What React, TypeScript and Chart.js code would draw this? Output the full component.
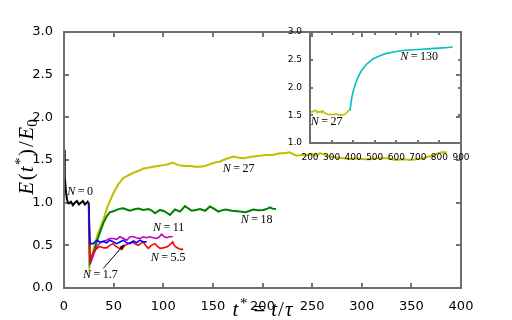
import React, { useEffect, useRef } from "react";
import { Chart, registerables } from "chart.js";

Chart.register(...registerables);

// ---------- data (t*, E/E0) ----------
const seriesN0: [number, number][] = [
  [0, 1.62], [0.5, 1.45], [1, 1.3], [2, 1.12], [3, 1.04], [4, 1.0], [5, 0.99], [7, 1.01], [9, 0.97],
  [11, 1.0], [13, 1.02], [15, 0.98], [17, 1.0], [19, 1.02], [21, 0.98], [23, 1.0], [24.5, 1.02],
];
const seriesN17: [number, number][] = [
  [25, 1.0], [25.8, 0.62], [26.4, 0.52], [29.5, 0.52], [33, 0.56], [36, 0.54], [39.6, 0.545], [43, 0.53],
  [46.3, 0.56], [50, 0.54], [53, 0.52], [56.4, 0.54], [59.8, 0.56], [63, 0.53], [66.5, 0.52], [70, 0.55],
  [73, 0.53], [76.6, 0.56], [80, 0.54], [83.3, 0.54],
];
const seriesN55: [number, number][] = [
  [25, 1.0], [26, 0.4], [27, 0.34], [29, 0.4], [31.2, 0.445], [34, 0.47], [36.3, 0.485], [40, 0.47],
  [43, 0.47], [46, 0.5], [49.7, 0.52], [52, 0.49], [54.7, 0.47], [58, 0.45], [61.5, 0.5], [65, 0.52],
  [68.2, 0.54], [71, 0.52], [74.9, 0.5], [77, 0.52], [79.9, 0.54], [82, 0.5], [85, 0.465], [88, 0.5],
  [91.7, 0.52], [94, 0.49], [96.7, 0.465], [100, 0.47], [103.4, 0.48], [106, 0.5], [109.5, 0.54],
  [111, 0.5], [113.5, 0.475], [116, 0.46], [118.6, 0.45], [120, 0.46],
];
const seriesN11: [number, number][] = [
  [25, 1.0], [26, 0.35], [27, 0.3], [30, 0.4], [33, 0.48], [36.3, 0.53], [40, 0.55], [43, 0.56],
  [46, 0.58], [49.7, 0.58], [53, 0.57], [56.4, 0.6], [60, 0.58], [63.2, 0.56], [66.5, 0.6], [69.8, 0.6],
  [73, 0.59], [76.6, 0.58], [80, 0.6], [83, 0.59], [86.6, 0.6], [90, 0.59], [93.4, 0.58], [96, 0.6],
  [98.4, 0.63], [101, 0.6], [103.4, 0.59], [106, 0.6], [109.5, 0.6],
];
const seriesN18: [number, number][] = [
  [25, 1.0], [26, 0.3], [28, 0.36], [31, 0.46], [34.6, 0.6], [39.6, 0.76], [43, 0.84], [46.3, 0.89],
  [50, 0.9], [53, 0.915], [56.4, 0.93], [59.8, 0.935], [63, 0.92], [66.5, 0.905], [70, 0.92], [74.9, 0.93],
  [80, 0.915], [85, 0.925], [88, 0.91], [91.7, 0.875], [96.7, 0.915], [101, 0.9], [106.8, 0.855],
  [111.8, 0.92], [116.9, 0.895], [121.9, 0.96], [128.7, 0.905], [133, 0.915], [137, 0.925], [142.2, 0.905],
  [147, 0.955], [151, 0.93], [155.5, 0.895], [159, 0.91], [163, 0.92], [169, 0.905], [175, 0.9],
  [182.4, 0.887], [186, 0.9], [190.7, 0.92], [195, 0.91], [200.8, 0.915], [204, 0.925], [207.6, 0.945],
  [210, 0.93], [213.6, 0.925],
];
const seriesN27: [number, number][] = [
  [24.8, 1.0], [25.6, 0.25], [29.5, 0.445], [34, 0.63], [39.6, 0.8], [44, 0.96], [49.7, 1.11], [55, 1.22],
  [59.8, 1.29], [66.5, 1.33], [72, 1.36], [76.6, 1.38], [80, 1.4], [85, 1.41], [90, 1.42], [95, 1.43],
  [100, 1.44], [105, 1.45], [109.5, 1.47], [115, 1.44], [121, 1.43], [127, 1.43], [132, 1.42], [137, 1.42],
  [142, 1.43], [147, 1.45], [152, 1.47], [157, 1.48], [160.5, 1.5], [165.5, 1.52], [170.6, 1.54],
  [175, 1.53], [180.7, 1.52], [185, 1.53], [190.7, 1.54], [197, 1.55], [204, 1.56], [210, 1.56],
  [217.6, 1.58], [222, 1.58], [227, 1.59], [234.4, 1.55], [240, 1.56], [244.5, 1.56], [250, 1.57],
  [254.6, 1.55], [258, 1.58], [263, 1.56], [268, 1.54], [275, 1.53], [282, 1.52], [288, 1.51], [295, 1.52],
  [302, 1.51], [308, 1.51], [316.7, 1.52], [325, 1.52], [330, 1.51], [335, 1.5], [342, 1.51], [348.6, 1.5],
  [355, 1.51], [362, 1.52], [367, 1.54], [372, 1.55], [377, 1.58], [381, 1.59], [385.6, 1.59],
];
const seriesN130: [number, number][] = [
  [385, 1.58], [390, 1.72], [395, 1.84], [400, 1.93], [410, 2.06], [420, 2.16], [430, 2.24], [440, 2.31],
  [450, 2.36], [460, 2.41], [475, 2.46], [490, 2.51], [510, 2.55], [530, 2.58], [550, 2.61], [575, 2.63],
  [600, 2.65], [640, 2.67], [680, 2.68], [720, 2.69], [760, 2.7], [800, 2.71], [840, 2.72], [862, 2.73],
];

// ---------- tick values ----------
const mainXTicks = [0, 50, 100, 150, 200, 250, 300, 350, 400];
const mainYTicks = [0, 0.5, 1.0, 1.5, 2.0, 2.5, 3.0];
const insetXTicks = [200, 300, 400, 500, 600, 700, 800, 900];
const insetYTicks = [1.0, 1.5, 2.0, 2.5, 3.0];

// ---------- curve labels (text, anchor in data coords) ----------
const mainLabels: { n: string; x: number; y: number }[] = [
  { n: "0", x: 3.3, y: 1.09 },
  { n: "27", x: 160, y: 1.36 },
  { n: "18", x: 178, y: 0.76 },
  { n: "11", x: 89.7, y: 0.67 },
  { n: "5.5", x: 87.3, y: 0.316 },
  { n: "1.7", x: 19.1, y: 0.117 },
];
const insetLabels: { n: string; x: number; y: number }[] = [
  { n: "27", x: 203, y: 1.33 },
  { n: "130", x: 618, y: 2.49 },
];
const arrowFrom = [39.6, 0.23];
const arrowTo = [61, 0.515];

const SERIF = "Liberation Serif";
const SANS = "DejaVu Sans";

type Seg = { t: string; f: string; dx?: number; dy?: number };
function drawRich(ctx: CanvasRenderingContext2D, segs: Seg[], x: number, y: number, align: "left" | "center") {
  ctx.textAlign = "left";
  ctx.textBaseline = "alphabetic";
  let w = 0;
  for (const s of segs) {
    ctx.font = s.f;
    w += (s.dx || 0) + ctx.measureText(s.t).width;
  }
  let cx = align === "center" ? x - w / 2 : x;
  for (const s of segs) {
    ctx.font = s.f;
    cx += s.dx || 0;
    ctx.fillText(s.t, cx, y + (s.dy || 0));
    cx += ctx.measureText(s.t).width;
  }
}

function nLabel(n: string, size: number): Seg[] {
  return [
    { t: "N", f: `italic ${size}px ${SERIF}` },
    { t: "=", f: `${size}px ${SERIF}`, dx: 2.5 },
    { t: n, f: `${size}px ${SERIF}`, dx: 2.5 },
  ];
}

function decor(name: string, tickLen: number, xt: number[], yt: number[], labels: { n: string; x: number; y: number }[], isMain: boolean) {
  return {
    id: "decor" + name,
    afterDraw(chart: any) {
      const ctx = chart.ctx as CanvasRenderingContext2D;
      const xs = chart.scales.x, ys = chart.scales.y;
      const L = xs.getPixelForValue(xs.min), R = xs.getPixelForValue(xs.max);
      const T = ys.getPixelForValue(ys.max), B = ys.getPixelForValue(ys.min);
      ctx.save();
      // curve labels
      ctx.fillStyle = "#000";
      for (const l of labels) {
        drawRich(ctx, nLabel(l.n, 12), xs.getPixelForValue(l.x), ys.getPixelForValue(l.y), "left");
      }
      if (isMain) {
        const x1 = xs.getPixelForValue(arrowFrom[0]);
        const y1 = ys.getPixelForValue(arrowFrom[1]);
        const x2 = xs.getPixelForValue(arrowTo[0]);
        const y2 = ys.getPixelForValue(arrowTo[1]);
        const ang = Math.atan2(y2 - y1, x2 - x1);
        const hl = 6;
        ctx.strokeStyle = "#000";
        ctx.lineWidth = 1;
        ctx.beginPath();
        ctx.moveTo(x1, y1);
        ctx.lineTo(x2 - Math.cos(ang) * hl * 0.8, y2 - Math.sin(ang) * hl * 0.8);
        ctx.stroke();
        ctx.beginPath();
        ctx.moveTo(x2, y2);
        ctx.lineTo(x2 - hl * Math.cos(ang - 0.35), y2 - hl * Math.sin(ang - 0.35));
        ctx.lineTo(x2 - hl * Math.cos(ang + 0.35), y2 - hl * Math.sin(ang + 0.35));
        ctx.closePath();
        ctx.fill();
        // axis titles
        const big = 21;
        const it = `italic ${big}px ${SERIF}`;
        const up = `${big}px ${SERIF}`;
        const sm = `${Math.round(big * 0.7)}px ${SERIF}`;
        drawRich(ctx, [
          { t: "t", f: it },
          { t: "*", f: sm, dx: 1.5, dy: -8 },
          { t: "=", f: up, dx: 6 },
          { t: "t", f: it, dx: 6 },
          { t: "/", f: up, dx: 1 },
          { t: "τ", f: it, dx: 1 },
        ], (L + R) / 2, 316, "center");
        ctx.save();
        ctx.translate(33, (T + B) / 2 - 3);
        ctx.rotate(-Math.PI / 2);
        drawRich(ctx, [
          { t: "E", f: it },
          { t: "(", f: up, dx: 1.5 },
          { t: "t", f: it, dx: 1 },
          { t: "*", f: sm, dx: 1.5, dy: -8 },
          { t: ")", f: up, dx: 1.5 },
          { t: "/", f: up, dx: 2 },
          { t: "E", f: it, dx: 1.5 },
          { t: "0", f: sm, dx: 0, dy: 4 },
        ], 0, 0, "center");
        ctx.restore();
      }
      // inward tick marks (filled bars) on all four sides
      ctx.fillStyle = "#1a1a1a";
      for (const v of xt) {
        const px = Math.round(xs.getPixelForValue(v));
        ctx.fillRect(px - 0.6, B - tickLen, 1.2, tickLen);
        ctx.fillRect(px - 0.6, T, 1.2, tickLen);
      }
      for (const v of yt) {
        const py = Math.round(ys.getPixelForValue(v));
        ctx.fillRect(L, py - 0.6, tickLen, 1.2);
        ctx.fillRect(R - tickLen, py - 0.6, tickLen, 1.2);
      }
      // frame (filled bars)
      ctx.fillStyle = "#6e6e6e";
      ctx.fillRect(L - 1, T - 1, R - L + 2, 2);
      ctx.fillRect(L - 1, B - 1, R - L + 2, 2);
      ctx.fillRect(L - 1, T - 1, 2, B - T + 2);
      ctx.fillRect(R - 1, T - 1, 2, B - T + 2);
      ctx.restore();
    },
  };
}

function ds(data: [number, number][], color: string, width: number) {
  return {
    data: data.map(([x, y]) => ({ x, y })),
    borderColor: color,
    borderWidth: width,
    pointRadius: 0,
  };
}

function axis(ticks: number[], min: number, max: number, fmt: (v: number) => string, size: number, pad: number, fitFn: (s: any) => void) {
  return {
    type: "linear" as const,
    min,
    max,
    grid: { display: false },
    border: { display: false },
    afterBuildTicks: (s: any) => {
      s.ticks = ticks.map((v) => ({ value: v }));
    },
    afterFit: fitFn,
    ticks: {
      autoSkip: false,
      maxRotation: 0,
      minRotation: 0,
      padding: pad,
      color: "#000",
      font: { family: SANS, size },
      callback: (v: any) => fmt(Number(v)),
    },
  };
}

export default function App() {
  const mainRef = useRef<HTMLCanvasElement>(null);
  const insetRef = useRef<HTMLCanvasElement>(null);

  useEffect(() => {
    const main = new Chart(mainRef.current!, {
      type: "line",
      data: {
        datasets: [
          ds(seriesN0, "#000000", 2),
          ds(seriesN17, "#0000ff", 1.6),
          ds(seriesN55, "#ff0000", 1.6),
          ds(seriesN11, "#bf00bf", 1.6),
          ds(seriesN18, "#008000", 2),
          ds(seriesN27, "#bfbf00", 2),
        ] as any,
      },
      options: {
        responsive: false,
        animation: false,
        devicePixelRatio: 1,
        layout: { padding: { top: 32, right: 51, left: 0, bottom: 0 } },
        plugins: { legend: { display: false }, tooltip: { enabled: false } },
        scales: {
          x: axis(mainXTicks, 0, 400, (v) => String(v), 13, 3, (s) => { s.height = 32; }),
          y: axis(mainYTicks, 0, 3, (v) => v.toFixed(1), 13, 3, (s) => { s.width = 64; }),
        } as any,
      },
      plugins: [decor("main", 5, mainXTicks, mainYTicks, mainLabels, true)],
    });

    const inset = new Chart(insetRef.current!, {
      type: "line",
      data: {
        datasets: [ds(seriesN27, "#bfbf00", 1.6), ds(seriesN130, "#00bfbf", 1.6)] as any,
      },
      options: {
        responsive: false,
        animation: false,
        devicePixelRatio: 1,
        layout: { padding: { top: 32, right: 51, left: 280, bottom: 157 } },
        plugins: { legend: { display: false }, tooltip: { enabled: false } },
        scales: {
          x: axis(insetXTicks, 200, 900, (v) => String(v), 9, 1, (s) => { s.height = 20; }),
          y: axis(insetYTicks, 1, 3, (v) => v.toFixed(1), 9, 0, (s) => { s.width = 30; }),
        } as any,
      },
      plugins: [decor("inset", 3, insetXTicks, insetYTicks, insetLabels, false)],
    });

    return () => {
      main.destroy();
      inset.destroy();
    };
  }, []);

  return (
    <div style={{ position: "fixed", left: 0, top: 0, width: 512, height: 320, background: "#fff" }}>
      <canvas ref={mainRef} width={512} height={320} style={{ position: "absolute", left: 0, top: 0 }} />
      <canvas ref={insetRef} width={512} height={320} style={{ position: "absolute", left: 0, top: 0 }} />
    </div>
  );
}
